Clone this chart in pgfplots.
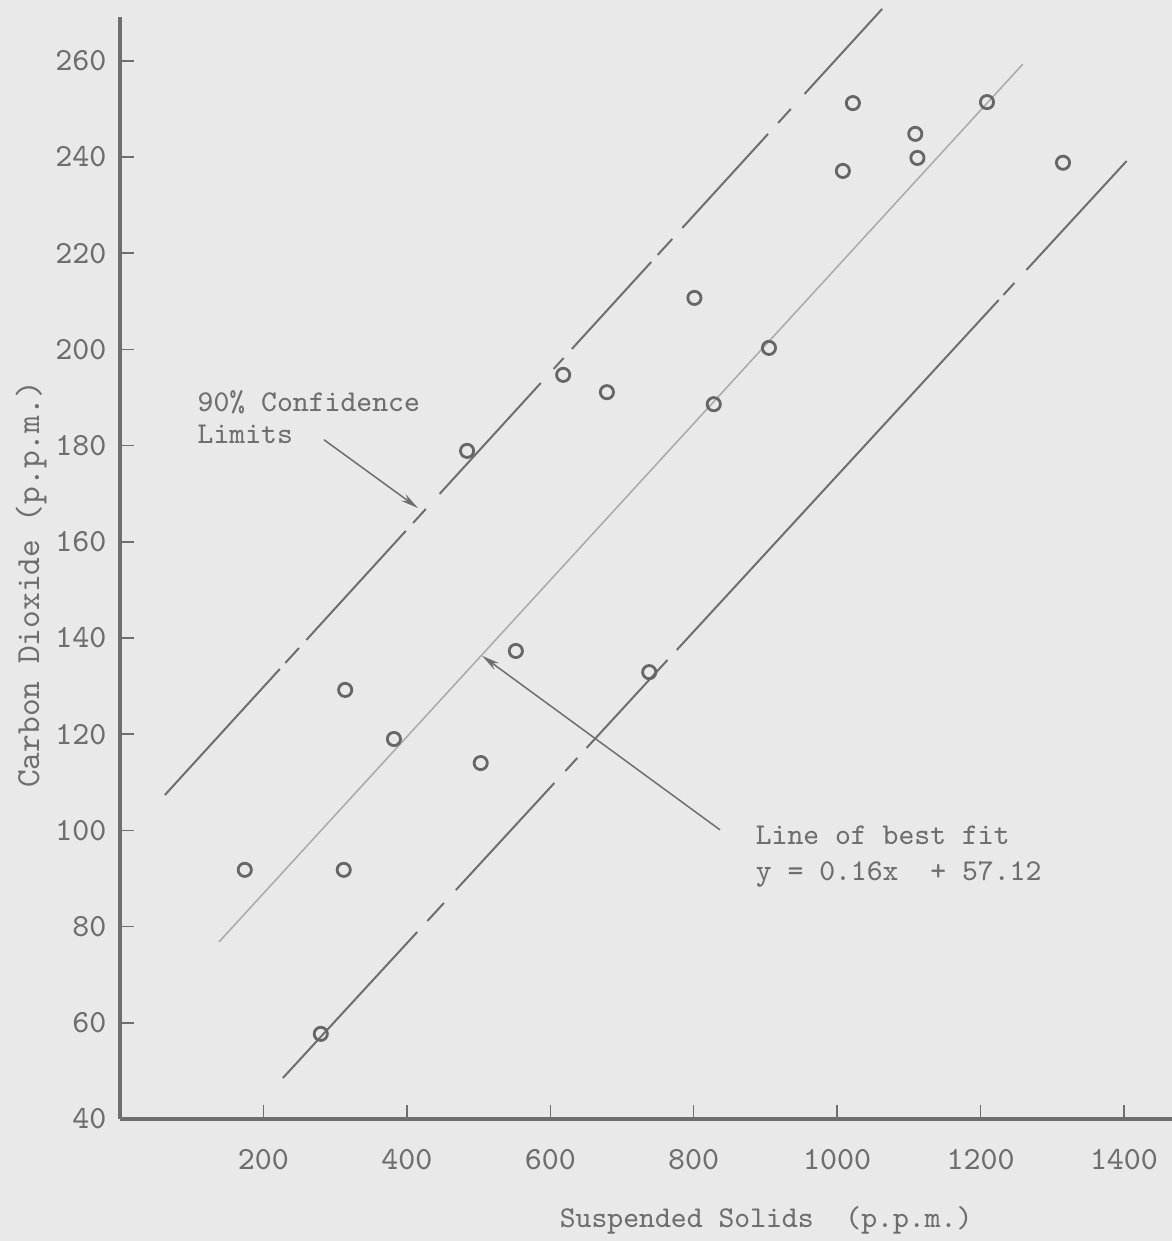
\documentclass[border=0pt]{standalone}
\usepackage{pgfplots}
\pgfplotsset{compat=1.18}
\usetikzlibrary{arrows.meta}
\definecolor{bg}{HTML}{E9E9E9}
\definecolor{ink}{HTML}{6E6E6E}
\definecolor{markc}{HTML}{666666}
\definecolor{fitc}{HTML}{A9A9A9}
\newcommand{\tw}{\ttfamily\fontsize{8.6}{10}\selectfont}
\newcommand{\tk}{\ttfamily\fontsize{9.2}{10}\selectfont}
\newcommand{\ty}{\ttfamily\fontsize{9.6}{10}\selectfont}
\begin{document}
\begin{tikzpicture}
\fill[bg] (0,0) rectangle (117.2mm,124.1mm);
\path[use as bounding box] (0,0) rectangle (117.2mm,124.1mm);
\begin{axis}[
  at={(12.0mm,12.2mm)}, anchor=south west,
  scale only axis, width=105.2mm, height=110.2mm,
  xmin=0, xmax=1467, ymin=40, ymax=269.1,
  axis x line*=bottom, axis y line*=left,
  axis line style={ink, line width=0.4mm},
  xtick={200,400,600,800,1000,1200,1400},
  xticklabels={200,400,600,800,1000,1200,1400},
  ytick={40,60,80,100,120,140,160,180,200,220,240,260},
  yticklabels={40,60,80,100,120,140,160,180,200,220,240,260},
  tick align=inside, major tick length=1.4mm,
  tick style={ink, line width=0.15mm},
  ticklabel style={font=\tk, text=ink, inner sep=0pt},
  xticklabel style={yshift=-3.0mm},
  yticklabel style={xshift=-1.3mm},
  clip=false,
  unbounded coords=jump,
]
% best fit line
\addplot[fitc, line width=0.15mm] coordinates {(138,76.8) (1259,259.3)};
% upper 90% confidence limit (broken line)
\addplot[ink, line width=0.2mm] coordinates {
  (62.6,107.36) (222.9,133.56) (226,nan)
  (230.5,134.80) (249.6,137.92) (255,nan)
  (259.8,139.58) (398.5,162.25) (403,nan)
  (408.7,163.91) (426.5,166.82) (436,nan)
  (445.6,169.94) (586.8,193.01) (595,nan)
  (604.7,195.93) (618.7,198.21) (624,nan)
  (630.1,200.08) (740.8,218.17) (745,nan)
  (749.8,219.63) (770.1,222.95) (777,nan)
  (784.1,225.24) (903.7,244.78) (910,nan)
  (917.7,247.07) (935.5,249.98) (945,nan)
  (954.6,253.10) (1062.8,270.77)
};
% lower 90% confidence limit (broken line)
\addplot[ink, line width=0.2mm] coordinates {
  (227.1,48.52) (414.5,78.88) (420,nan)
  (428.6,81.16) (451.7,84.91) (460,nan)
  (468.4,87.61) (605.7,109.85) (612,nan)
  (621.1,112.35) (637.7,115.05) (644,nan)
  (650.6,117.13) (763.5,135.43) (770,nan)
  (776.4,137.51) (1225.4,210.27) (1228,nan)
  (1231.9,211.31) (1247.2,213.80) (1255,nan)
  (1264.0,216.51) (1403.8,239.17)
};
% observations
\addplot[only marks, mark=o, mark size=0.66mm, mark options={draw=markc, line width=0.28mm}] coordinates {
  (174,91.8) (280,57.7) (314,129.2) (312,91.8) (382,119.0)
  (484,178.9) (503,114.0) (552,137.3) (618,194.7) (679,191.1)
  (738,132.9) (801,210.7) (828,188.6) (905,200.3) (1008,237.1)
  (1022,251.2) (1109,244.8) (1112,239.8) (1209,251.4) (1315,238.8)
};
% annotations
\draw[ink, line width=0.15mm, -{Stealth[length=1.8mm,width=0.8mm]}] (axis cs:284.5,181.2) -- (axis cs:415.6,167.0);
\draw[ink, line width=0.15mm, -{Stealth[length=1.8mm,width=0.8mm]}] (axis cs:836.8,100.1) -- (axis cs:504.9,136.3);
\node[anchor=base west, font=\tw, text=ink, inner sep=0pt] at (axis cs:107.4,187.0) {90\% Confidence};
\node[anchor=base west, font=\tw, text=ink, inner sep=0pt] at (axis cs:107.4,180.5) {Limits};
\node[anchor=base west, font=\tw, text=ink, inner sep=0pt] at (axis cs:885.6,97.0) {Line of best fit};
\node[anchor=base west, font=\tw, text=ink, inner sep=0pt] at (axis cs:885.6,89.5) {y = 0.16x~~+ 57.12};
% axis titles
\node[rotate=90, font=\ty, text=ink, inner sep=0pt] at (axis cs:-124,151.2) {Carbon Dioxide (p.p.m.)};
\node[font=\tw, text=ink, inner sep=0pt] at (axis cs:901,19.0) {Suspended Solids~~(p.p.m.)};
\end{axis}
\end{tikzpicture}
\end{document}
